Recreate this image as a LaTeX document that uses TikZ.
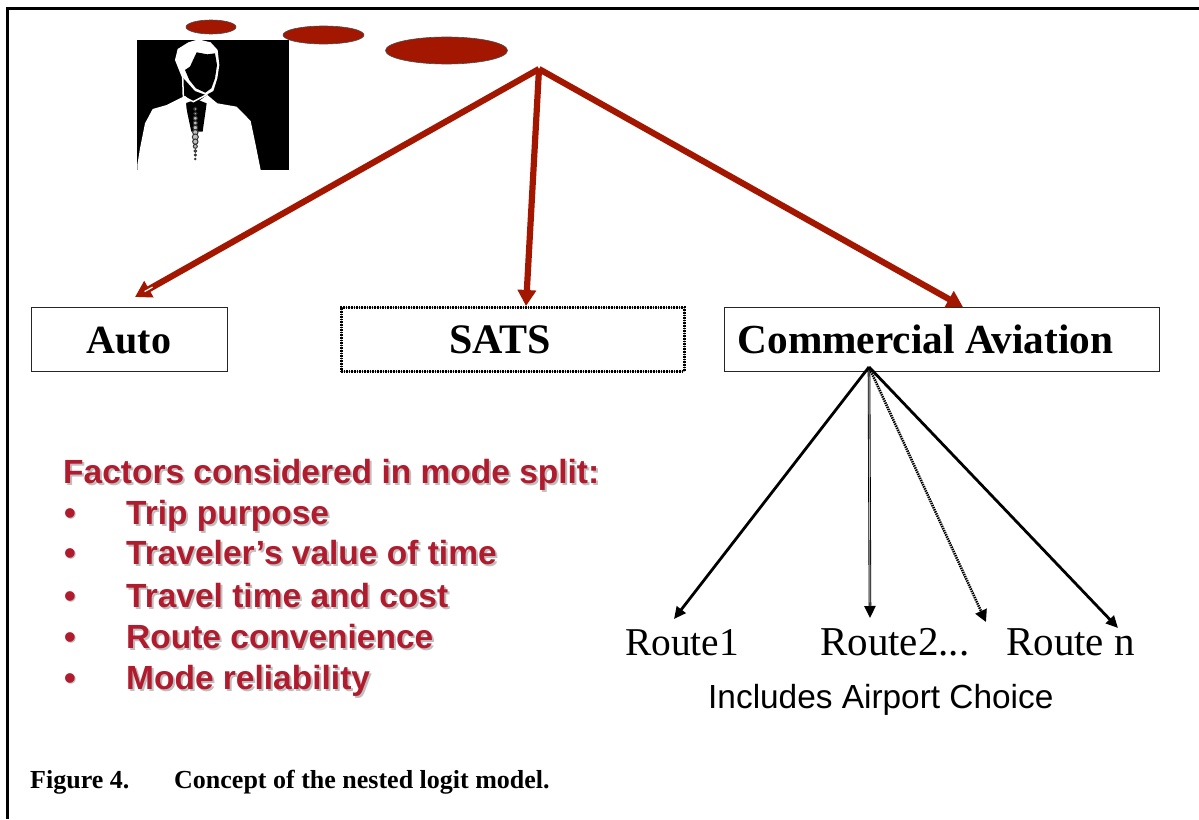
\documentclass[tikz,border=0pt]{standalone}
\usepackage{fontspec}
\setmainfont{Liberation Serif}
\newfontfamily\arialf{Liberation Sans}
\usetikzlibrary{arrows.meta,shapes.geometric,calc}
\definecolor{brick}{HTML}{A31700}
\definecolor{factor}{HTML}{B01B2E}
\newcommand{\boxlabel}[1]{\raisebox{-14.5pt}[0pt][0pt]{#1}}
\tikzset{
  x=1pt,y=-1pt,
  boxnode/.style={draw=black!85,line width=1pt,minimum width=#1,minimum height=64pt,inner sep=0pt},
  boxtext/.style={font=\fontsize{40}{46}\selectfont\bfseries},
  routetext/.style={anchor=base west,inner sep=0pt,font=\fontsize{41}{44}\selectfont},
  cloud/.style={ellipse,draw=black!70,line width=.6pt,fill=brick,inner sep=0pt},
  redarrow/.style={draw=brick,line width=6.2pt,-{Triangle[length=16pt,width=18pt,fill=brick]}},
  blackarrow/.style={draw=black,line width=2.8pt,-{Triangle[length=12pt,width=11pt]}},
  factortext/.style={anchor=base west,inner sep=0pt,text=factor,font=\fontsize{33.5}{38}\selectfont\arialf\bfseries},
  factorshadow/.style={anchor=base west,inner sep=0pt,text=black!25,font=\fontsize{33.5}{38}\selectfont\arialf\bfseries},
  captext/.style={anchor=base west,inner sep=0pt,font=\fontsize{26}{30}\selectfont\bfseries},
}
\begin{document}
\begin{tikzpicture}
\useasboundingbox (0,0) rectangle (1199,819);
\fill[white] (0,0) rectangle (1199,819);
% frame
\draw[black,line width=2.2pt] (1199,8.5) -- (7.5,8.5) -- (7.5,819);

% man picture
\fill[black] (137,40) rectangle (289,170);
\begin{scope}[shift={(130,35)},x=.3333pt,y=-.3333pt]
  \fill[white] (22,390) -- (30,340) -- (45,265) -- (68,222) -- (110,210) -- (150,190) -- (165,183)
     -- (195,207) -- (232,180) -- (262,205) -- (320,215) -- (362,258) -- (375,320) -- (392,405) -- (22,405) -- cycle;
  \fill[black] (166,205) -- (184,290) -- (218,290) -- (230,205) -- (205,195) -- (188,197) -- cycle;
  \draw[white,line width=1.5pt] (158,125) -- (160,185) -- (190,200) -- (232,178);
  \draw[white,line width=1.5pt] (165,185) -- (168,240);
  \fill[white] (135,75) -- (143,42) -- (175,22) -- (205,13) -- (242,22) -- (263,45) -- (268,90)
     -- (262,130) -- (250,168) -- (228,180) -- (195,168) -- (170,140) -- (155,125) -- (145,100) -- cycle;
  \fill[black] (165,105) -- (180,95) -- (200,52) -- (232,58) -- (255,55) -- (261,90) -- (255,130)
     -- (244,160) -- (226,173) -- (198,160) -- (178,135) -- cycle;
  \foreach \py/\pr in {222/5,236/5,250/6,264/6,278/7,292/8,306/9,320/8,334/6,348/4,360/3,372/2}{
    \draw[black!80,fill=black!25,line width=1pt] (196,\py) circle [radius=\pr];
  }
\end{scope}

% thought clouds
\node[cloud,minimum width=50pt,minimum height=14pt] (c1) at (211,27) {};
\node[cloud,minimum width=81pt,minimum height=18pt] (c2) at (323.5,35) {};
\node[cloud,minimum width=122pt,minimum height=27pt] (c3) at (446.5,50.5) {};

% boxes
\node[boxnode=196pt,boxtext] (auto) at (129,339) {\boxlabel{Auto}};
\node[boxnode=343pt,draw=black!30,line width=.8pt] (satsbase) at (512.5,339) {};
\node[boxnode=343pt,boxtext,font=\fontsize{42}{46}\selectfont\bfseries,draw=black,line width=3pt,dash pattern=on 1.6pt off 1pt] (sats) at (512.5,339) {\hspace*{-25pt}\boxlabel{SATS}};
\node[boxnode=435pt,boxtext,font=\fontsize{41.3}{46}\selectfont\bfseries] (comm) at (941.5,339) {\hspace*{-32pt}\boxlabel{Commercial Aviation}};

% hubs and arrow ends
\coordinate (hub) at (539,69);
\coordinate (autoin) at (135,297);
\coordinate (satsin) at (526,306);
\coordinate (commin) at (963,307);
\coordinate (hubb) at (869,367);
\coordinate (r1in) at (674,619);
\coordinate (r2in) at (870,618);
\coordinate (r3in) at (986,622);
\coordinate (r4in) at (1118,628);

\draw[redarrow] (hub) -- (autoin);
\draw[redarrow] (hub) -- (satsin);
\draw[redarrow] (hub) -- (commin);
% highlight in the arrowhead
\draw[white,line width=1.2pt,shorten <=11pt,shorten >=3pt] (autoin) -- ($(autoin)!.05!(hub)$);

\draw[black,line width=2.6pt,-{Triangle[length=12pt,width=11pt]}] (hubb) -- (r2in);
\draw[white!75!black,line width=.9pt,shorten >=12pt] (hubb) -- (r2in);
\draw[blackarrow] (hubb) -- (r1in);
\draw[black,line width=2.6pt,dash pattern=on 1.4pt off .9pt,-{Triangle[length=12pt,width=12pt,sep=0pt]}] (hubb) -- (r3in);
\draw[blackarrow] (hubb) -- (r4in);

% route labels
\node[routetext,font=\fontsize{39.4}{44}\selectfont] (r1) at (625,655) {Route1};
\node[routetext] (r2) at (820,655) {Route2...};
\node[routetext] (r3) at (1006,655) {Route n};
\node[anchor=base west,inner sep=0pt,font=\fontsize{33.4}{36}\selectfont\arialf] (air) at (708,708) {Includes Airport Choice};

% factors
\foreach \nm/\yy/\tx in {a/524/Trip purpose,b/564/Traveler’s value of time,c/607/Travel time and cost,d/648/Route convenience,e/689/Mode reliability}{
  \node[factorshadow] (\nm s) at (128,\yy+2) {\tx};
  \node[factortext] (\nm t) at (126,\yy) {\tx};
  \node[factorshadow] (\nm bs) at (65,\yy+1) {•};
  \node[factortext] (\nm b) at (64,\yy) {•};
}
\node[factorshadow] (fhs) at (65,485) {Factors considered in mode split:};
\node[factortext] (fh) at (63,483) {Factors considered in mode split:};

% caption
\node[captext] (cap1) at (30,788) {Figure 4.};
\node[captext] (cap2) at (174,788) {Concept of the nested logit model.};
\end{tikzpicture}
\end{document}
